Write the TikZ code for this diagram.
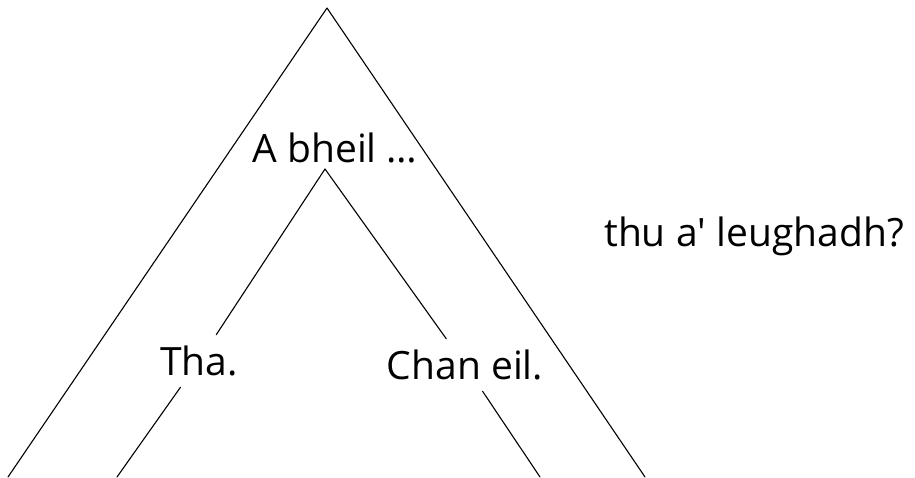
\documentclass[tikz,border=0pt]{standalone}
\usepackage{fontspec}
\setmainfont{Open Sans}
\usetikzlibrary{calc}

\begin{document}
\begin{tikzpicture}[x=1pt, y=-1pt, line cap=round, line join=round]
    \useasboundingbox (0,0) rectangle (915,477);

    \tikzset{
        branch/.style={line width=1.1pt},
        word/.style={font=\fontsize{39}{44}\selectfont, inner sep=11pt}
    }

    \coordinate (Top)    at (327,8);
    \coordinate (TopL)   at (8,477);
    \coordinate (TopR)   at (645,477);
    \coordinate (Inner)  at (325,169);
    \coordinate (InnerL) at (117,477);
    \coordinate (InnerR) at (540,477);

    \node[word] (Q)    at (335,148) {A bheil \dots};
    \node[word] (Yes)  at (199,361) {Tha.};
    \node[word] (No)   at (465,365) {Chan eil.};
    \node[word] (Rest) at (754,236) {thu a\textquotesingle{} leughadh?};

    % outer triangle
    \draw[branch] (TopL) -- (Top) -- (TopR);

    % inner triangle, broken by the answers
    \draw[branch] (Inner) -- (Yes);
    \draw[branch] (Yes) -- (InnerL);
    \draw[branch] (Inner) -- (No);
    \draw[branch] (No) -- (InnerR);
\end{tikzpicture}
\end{document}
